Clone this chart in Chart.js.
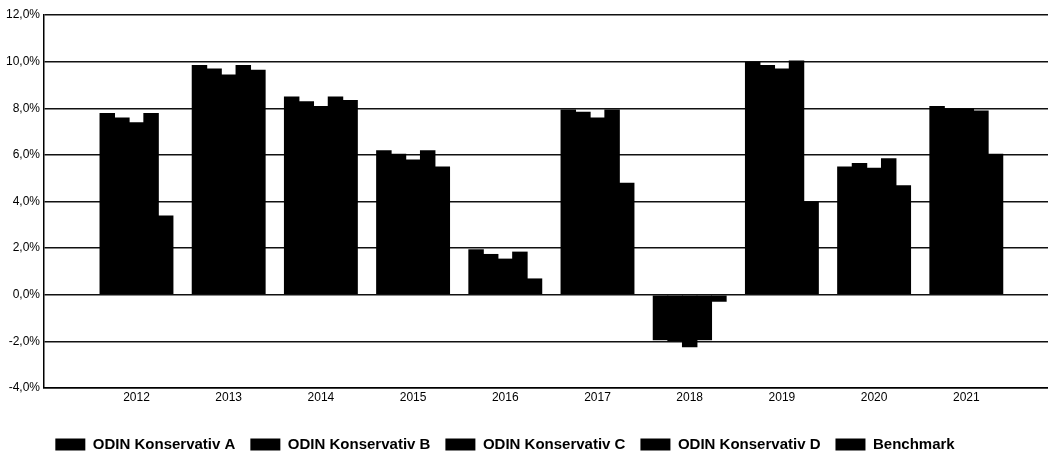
<!DOCTYPE html>
<html>
<head>
<meta charset="utf-8">
<script src="https://cdn.jsdelivr.net/npm/chart.js@4.4.1/dist/chart.umd.min.js"></script>
<style>
html,body{margin:0;padding:0;background:#fff;}
#wrap{width:1048px;height:452px;position:relative;}
</style>
</head>
<body>
<div id="wrap"><canvas id="c" width="1048" height="452"></canvas></div>
<script>
const years = ['2012','2013','2014','2015','2016','2017','2018','2019','2020','2021'];
const seriesNames = ['ODIN Konservativ A','ODIN Konservativ B','ODIN Konservativ C','ODIN Konservativ D','Benchmark'];
const konservativA = [7.8, 9.85, 8.5, 6.2, 1.95, 7.95, -1.95, 10.0, 5.5, 8.1];
const konservativB = [7.6, 9.7, 8.3, 6.05, 1.75, 7.85, -2.0, 9.85, 5.65, 8.0];
const konservativC = [7.4, 9.45, 8.1, 5.8, 1.55, 7.6, -2.25, 9.7, 5.45, 8.0];
const konservativD = [7.8, 9.85, 8.5, 6.2, 1.85, 7.95, -1.95, 10.05, 5.85, 7.9];
const benchmark = [3.4, 9.65, 8.35, 5.5, 0.7, 4.8, -0.3, 4.0, 4.7, 6.05];
const yTicks = [-4, -2, 0, 2, 4, 6, 8, 10, 12];

const allSeries = [konservativA, konservativB, konservativC, konservativD, benchmark];
const datasets = allSeries.map((vals, si) => ({
  label: seriesNames[si],
  data: vals.map((v, i) => ({x: i, y: v})),
  backgroundColor: '#000',
  borderWidth: 0,
  categoryPercentage: 0.792,
  barPercentage: 1.06
}));

const FONT = "'Liberation Sans', Arial, sans-serif";

const legendShift = {
  id: 'legendShift',
  afterLayout(chart) {
    if (chart.legend) { chart.legend.left -= 19; chart.legend.right -= 19; }
  }
};

new Chart(document.getElementById('c'), {
  type: 'bar',
  data: { datasets },
  plugins: [legendShift],
  options: {
    responsive: false,
    animation: false,
    devicePixelRatio: 1,
    layout: { padding: { top: 15, right: 0, left: 0, bottom: -10 } },
    plugins: {
      tooltip: { enabled: false },
      legend: {
        position: 'bottom',
        labels: {
          boxWidth: 30,
          boxHeight: 12,
          padding: 15,
          color: '#000',
          font: { family: FONT, size: 15, weight: 'bold' }
        }
      }
    },
    scales: {
      x: {
        type: 'linear',
        min: -1.003,
        max: 9.886,
        offset: false,
        afterBuildTicks: (s) => { s.ticks = years.map((_, i) => ({ value: i })); },
        afterFit: (s) => { s.height = 34; },
        ticks: {
          autoSkip: false,
          maxRotation: 0,
          color: '#000',
          padding: 2,
          font: { family: FONT, size: 12 },
          callback: (v) => years[v] !== undefined ? years[v] : ''
        },
        grid: { display: false, drawTicks: false },
        border: { display: true, color: '#000', width: 1.5 }
      },
      y: {
        min: -4,
        max: 12,
        afterBuildTicks: (s) => { s.ticks = yTicks.map(v => ({ value: v })); },
        afterFit: (s) => { s.width = 44; },
        ticks: {
          color: '#000',
          padding: 4,
          font: { family: FONT, size: 12 },
          callback: (v) => v.toFixed(1).replace('.', ',') + '%'
        },
        grid: { color: '#111', lineWidth: 1.5, drawTicks: false },
        border: { display: true, color: '#000', width: 1.5 }
      }
    }
  }
});
</script>
</body>
</html>
